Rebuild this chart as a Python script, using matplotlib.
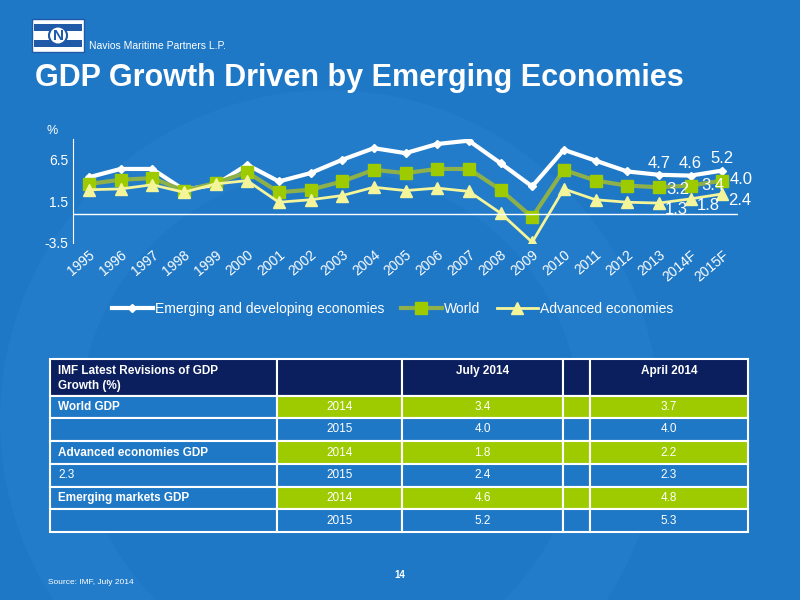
import matplotlib
matplotlib.use("Agg")
import matplotlib.pyplot as plt
from matplotlib.patches import Rectangle, Circle

plt.rcParams["font.family"] = ["Liberation Sans", "DejaVu Sans"]

years = ["1995", "1996", "1997", "1998", "1999", "2000", "2001", "2002", "2003", "2004",
         "2005", "2006", "2007", "2008", "2009", "2010", "2011", "2012", "2013", "2014F", "2015F"]
emerging = [4.4, 5.4, 5.4, 2.9, 3.5, 5.9, 3.9, 4.9, 6.5, 7.9, 7.3, 8.4, 8.8, 6.1, 3.3, 7.7, 6.4, 5.1, 4.7, 4.6, 5.2]
world = [3.6, 4.1, 4.3, 2.8, 3.7, 5.0, 2.6, 2.9, 3.9, 5.3, 4.9, 5.4, 5.4, 2.9, -0.4, 5.3, 4.0, 3.4, 3.2, 3.4, 4.0]
advanced = [2.9, 3.0, 3.5, 2.6, 3.6, 4.0, 1.4, 1.7, 2.2, 3.2, 2.8, 3.1, 2.7, 0.1, -3.4, 3.0, 1.7, 1.4, 1.3, 1.8, 2.4]
y_ticks = [-3.5, 1.5, 6.5]

table_header = ["IMF Latest Revisions of GDP\nGrowth (%)", "", "July 2014", "", "April 2014"]
table_rows = [
    ["World GDP", "2014", "3.4", "", "3.7"],
    ["", "2015", "4.0", "", "4.0"],
    ["Advanced economies GDP", "2014", "1.8", "", "2.2"],
    ["2.3", "2015", "2.4", "", "2.3"],
    ["Emerging markets GDP", "2014", "4.6", "", "4.8"],
    ["", "2015", "5.2", "", "5.3"],
]

BG = "#1F78C6"
NAVY = "#0B1F5E"
GREEN = "#9DCB00"

fig = plt.figure(figsize=(8, 6), dpi=100, facecolor=BG)

# slide layer in pixel coordinates
bg = fig.add_axes([0, 0, 1, 1])
bg.set_xlim(0, 800)
bg.set_ylim(600, 0)
bg.axis("off")
bg.add_patch(Circle((330, 420), 330, facecolor="#2580CC", edgecolor="none", alpha=0.5))
bg.add_patch(Circle((330, 420), 250, facecolor=BG, edgecolor="none"))

# logo
bg.add_patch(Rectangle((32, 19), 52, 33, facecolor="white", edgecolor="#1E5AA8", lw=1))
for yy in (24, 40):
    bg.add_patch(Rectangle((34, yy), 48, 7, facecolor="#1E5AA8", edgecolor="none"))
bg.add_patch(Circle((58, 35.5), 9, facecolor="white", edgecolor="#1E5AA8", lw=1.5))
bg.text(58, 36, "N", color="#1E5AA8", fontsize=11, fontweight="bold", ha="center", va="center")
bg.text(89, 46, "Navios Maritime Partners L.P.", color="white", fontsize=7.5, va="center")
bg.text(35, 78, "GDP Growth Driven by Emerging Economies", color="white",
        fontsize=22, fontweight="bold", va="center")

# table
col_x = [50, 277, 402, 563, 590, 748]
row_y = [359, 396, 418, 441, 464, 487, 509, 532]
all_rows = [table_header] + table_rows
for r, row in enumerate(all_rows):
    y0, y1 = row_y[r], row_y[r + 1]
    for c, txt in enumerate(row):
        x0, x1 = col_x[c], col_x[c + 1]
        if r == 0:
            fc = NAVY
        elif c >= 1 and r % 2 == 1:
            fc = GREEN
        else:
            fc = BG
        bg.add_patch(Rectangle((x0, y0), x1 - x0, y1 - y0, facecolor=fc,
                               edgecolor="white", lw=1.5))
        if not txt:
            continue
        bold = r == 0 or (c == 0 and txt != "2.3")
        if c == 0:
            bg.text(x0 + 8, (y0 + y1) / 2 if r else y0 + 6, txt, color="white",
                    fontsize=8.5, fontweight="bold" if bold else "normal",
                    ha="left", va="center" if r else "top", linespacing=1.3)
        else:
            bg.text((x0 + x1) / 2, (y0 + y1) / 2 if r else y0 + 12, txt, color="white",
                    fontsize=8.5, fontweight="bold" if bold else "normal",
                    ha="center", va="center")

bg.text(48, 582, "Source: IMF, July 2014", color="white", fontsize=6, va="center")
bg.text(400, 575, "14", color="white", fontsize=7, fontweight="bold", ha="center", va="center")

# chart
ax = fig.add_axes([73 / 800, 1 - 243 / 600, 665 / 800, 104 / 600])
ax.set_facecolor("none")
x = list(range(len(years)))
ax.plot(x, emerging, color="white", lw=3, marker="D", ms=4, label="Emerging and developing economies")
ax.plot(x, world, color="#8DB04A", lw=3, marker="s", ms=8, mfc=GREEN, mec=GREEN, label="World")
ax.plot(x, advanced, color="#F4F49A", lw=2, marker="^", ms=8, mfc="#F4F49A", mec="#F4F49A",
        label="Advanced economies")
ax.axhline(0, color="white", lw=1)
ax.set_xlim(-0.5, len(years) - 0.5)
ax.set_ylim(-3.5, 9)
ax.set_yticks(y_ticks)
ax.set_yticklabels([str(v) for v in y_ticks], color="white", fontsize=10)
ax.set_xticks(x)
ax.set_xticklabels(years, rotation=40, ha="right", rotation_mode="anchor", color="white", fontsize=10)
ax.tick_params(length=0)
for s in ["top", "right", "bottom"]:
    ax.spines[s].set_visible(False)
ax.spines["left"].set_color("white")
ax.text(-1.35, 9.6, "%", color="white", fontsize=9)

for i in range(18, 21):
    ax.text(i, emerging[i] + 0.5, f"{emerging[i]:.1f}", color="white", fontsize=12,
            ha="center", va="bottom")
lab_off = {18: (0.25, -0.3), 19: (0.35, 0.0), 20: (0.25, 0.1)}
for i in range(18, 21):
    dx, dy = lab_off[i]
    ax.text(i + dx, world[i] + dy, f"{world[i]:.1f}", color="white", fontsize=12,
            ha="left", va="center")
for i in range(18, 21):
    ax.text(i + 0.2, advanced[i] - 0.8, f"{advanced[i]:.1f}", color="white", fontsize=12,
            ha="left", va="center")

leg = ax.legend(loc="upper center", bbox_to_anchor=(0.48, -0.45), ncol=3, frameon=False,
                fontsize=10, handlelength=3, columnspacing=1.2, handletextpad=0.1)
for t in leg.get_texts():
    t.set_color("white")

fig.savefig("out.png", dpi=100, facecolor=BG)
